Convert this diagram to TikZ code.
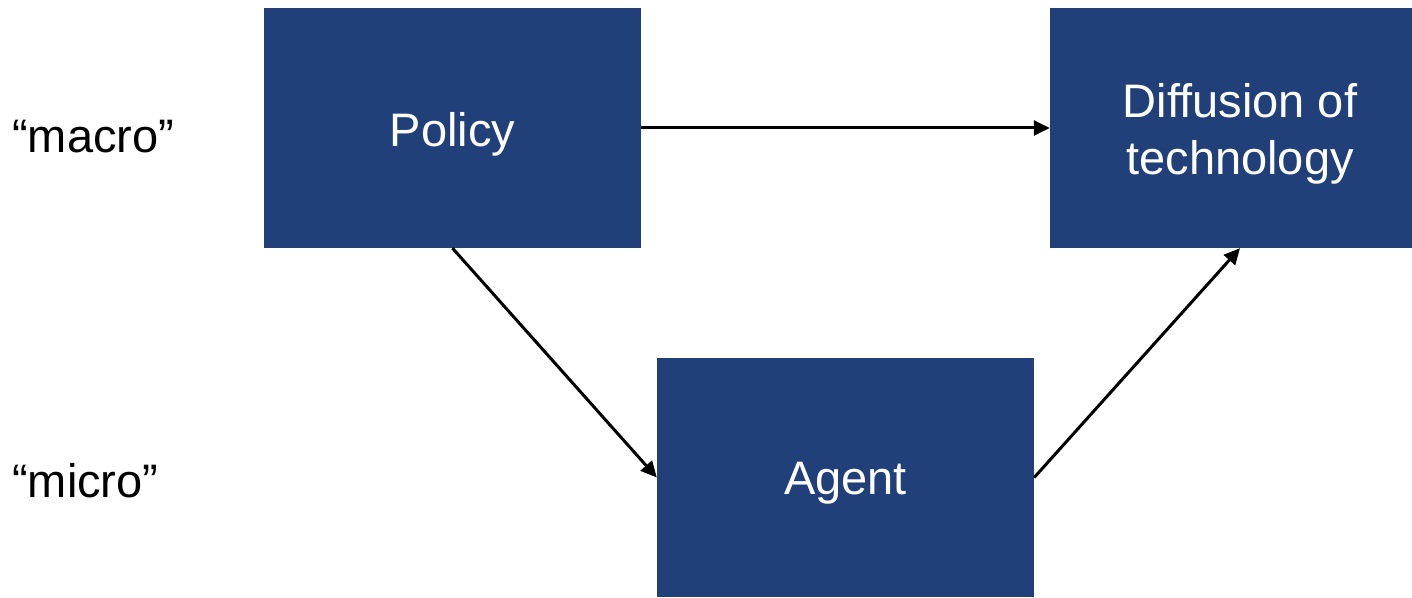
\documentclass[tikz,border=0pt]{standalone}
\usepackage{fontspec}
\setmainfont{Liberation Sans}
\usetikzlibrary{arrows.meta}
\definecolor{boxblue}{RGB}{33,64,122}
\tikzset{
  box/.style={fill=boxblue, draw=none, inner sep=0pt},
  boxtext/.style={text=white, inner sep=0pt, align=center, yshift=-6pt,
    font=\fontsize{47}{57}\selectfont},
  lbl/.style={anchor=base west, inner sep=0pt, font=\fontsize{47}{57}\selectfont},
  conn/.style={line width=3pt, -{Triangle[length=16pt,width=15pt]}}
}
\begin{document}
\begin{tikzpicture}[x=1pt,y=1pt]
\useasboundingbox (0,0) rectangle (1412,597);
\node[box, minimum width=377pt, minimum height=240pt,
  label={[boxtext]center:Policy}] (P) at (452.5,469) {};
\node[box, minimum width=380pt, minimum height=240pt,
  label={[boxtext]center:Diffusion of\\technology}] (D) at (1240,469) {};
\node[box, minimum width=377pt, minimum height=239pt,
  label={[boxtext]center:Agent}] (A) at (845.5,119.5) {};
\node[lbl] (macro) at (12,444) {“macro”};
\node[lbl] (micro) at (12,100) {“micro”};
\draw[conn] (P.east) -- (D.west);
\draw[conn] (P.south) -- (A.west);
\draw[conn] (A.east) -- (D.south);
\end{tikzpicture}
\end{document}
